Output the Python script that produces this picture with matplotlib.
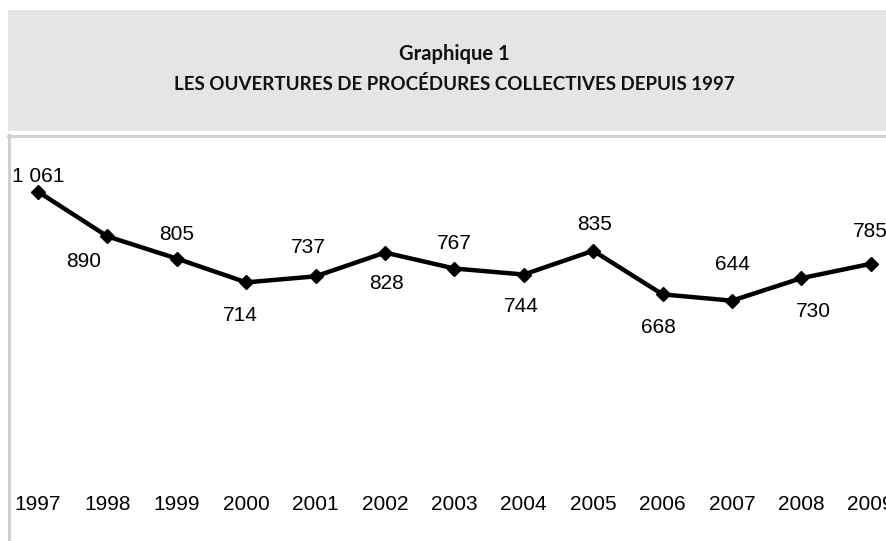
import matplotlib
matplotlib.use("Agg")
import matplotlib.pyplot as plt
from matplotlib.patches import Rectangle
from matplotlib.lines import Line2D

# ---- data ----
years = [1997, 1998, 1999, 2000, 2001, 2002, 2003, 2004, 2005, 2006, 2007, 2008, 2009]
values = [1061, 890, 805, 714, 737, 828, 767, 744, 835, 668, 644, 730, 785]
value_labels = ["1 061", "890", "805", "714", "737", "828", "767", "744", "835", "668", "644", "730", "785"]
title_line1 = "Graphique 1"
title_line2 = "LES OUVERTURES DE PROCÉDURES COLLECTIVES DEPUIS 1997"

# label offsets in pixels (dx, dy), as placed in the reference
label_offsets = [(0, 15), (-24, -25), (0, 24), (-6, -33), (-7, 29), (2, -31), (0, 25),
                 (-2, -32), (1, 26), (-4, -33), (0, 36), (12, -33), (0, 32)]

W, H = 886, 541
fig = plt.figure(figsize=(W / 100, H / 100), dpi=100)
fig.patch.set_facecolor("white")

def fx(px):
    return px / W

def fy(py):
    return 1 - py / H

# header band
fig.patches.append(Rectangle((fx(8), fy(131)), fx(886) - fx(8), fy(10) - fy(131),
                             transform=fig.transFigure, facecolor="#e5e5e5",
                             edgecolor="none", zorder=0))
# frame lines of the plot box
fig.lines.append(Line2D([fx(8), 1], [fy(136), fy(136)], transform=fig.transFigure,
                        color="#d0d0d0", linewidth=2.2))
fig.lines.append(Line2D([fx(8.5), fx(8.5)], [fy(135), 0], transform=fig.transFigure,
                        color="#d0d0d0", linewidth=2.2))

title_font = ["Lato", "DejaVu Sans"]
fig.text(fx(454), fy(54), title_line1, ha="center", va="center", fontsize=14.5,
         family=title_font, weight="bold", color="#111111")
fig.text(fx(454), fy(84), title_line2, ha="center", va="center", fontsize=13.5,
         family=title_font, weight="bold", color="#111111")

# axes: pixel mapping x = 38 + 69.4*(year-1997), y = 469 - 0.2614*value
ax_left, ax_right = 10, 886
ax_top, ax_bottom = 140, 494
ax = fig.add_axes([fx(ax_left), fy(ax_bottom), fx(ax_right) - fx(ax_left), fy(ax_top) - fy(ax_bottom)])
ax.set_facecolor("none")
step = 69.4
x0 = 1997 + (ax_left - 38) / step
x1 = 1997 + (ax_right - 38) / step
k = 0.2614
y0 = (469 - ax_bottom) / k
y1 = (469 - ax_top) / k
ax.set_xlim(x0, x1)
ax.set_ylim(y0, y1)
for s in ax.spines.values():
    s.set_visible(False)
ax.set_yticks([])
ax.set_xticks(years)
ax.set_xticklabels([str(y) for y in years], fontsize=15, family=["Liberation Sans", "DejaVu Sans"])
ax.tick_params(axis="x", length=0, pad=1)
for lbl in ax.get_xticklabels():
    lbl.set_clip_on(False)

ax.plot(years, values, color="black", linewidth=3.2, marker="D", markersize=7,
        clip_on=False, solid_joinstyle="miter")

for x, v, t, (dx, dy) in zip(years, values, value_labels, label_offsets):
    ax.annotate(t, (x, v), xytext=(dx, dy), textcoords="offset pixels",
                ha="center", va="center", fontsize=15,
                family=["Liberation Sans", "DejaVu Sans"], annotation_clip=False)

fig.savefig("out.png", dpi=100, facecolor="white")
